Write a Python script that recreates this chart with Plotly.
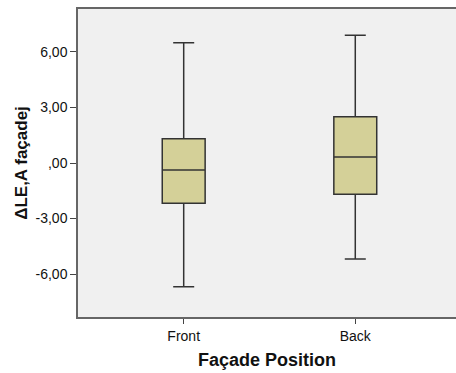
import plotly.graph_objects as go

categories = ["Front", "Back"]
lower_whisker = [-6.69, -5.19]
q1 = [-2.18, -1.69]
median = [-0.38, 0.32]
q3 = [1.31, 2.50]
upper_whisker = [6.49, 6.90]

tick_vals = [6, 3, 0, -3, -6]
tick_text = ["6,00", "3,00", ",00", "-3,00", "-6,00"]

fig = go.Figure()
fig.add_trace(go.Box(
    x=categories,
    q1=q1, median=median, q3=q3,
    lowerfence=lower_whisker, upperfence=upper_whisker,
    fillcolor="#D4D098",
    line=dict(color="#333333", width=1.5),
    width=0.25,
    whiskerwidth=0.49,
    boxpoints=False,
    showlegend=False,
    hoverinfo="skip",
))

fig.update_layout(
    width=456, height=373,
    margin=dict(l=78, r=0, t=9, b=56),
    paper_bgcolor="white",
    plot_bgcolor="#F0F0F0",
    font=dict(family="Liberation Sans, Arial, sans-serif", color="#111111", size=14),
    xaxis=dict(
        type="category",
        range=[-0.616, 1.587],
        showline=True, linecolor="#666666", linewidth=1.5, mirror=True,
        ticks="outside", ticklen=5, tickcolor="#444444",
        showgrid=False, zeroline=False,
        tickfont=dict(size=14),
        title=dict(text="Façade Position", font=dict(size=18, weight="bold"), standoff=11),
    ),
    yaxis=dict(
        range=[-8.32, 8.32],
        tickvals=tick_vals, ticktext=tick_text,
        showline=True, linecolor="#666666", linewidth=1.5,
        ticks="outside", ticklen=6, tickcolor="#444444",
        showgrid=False, zeroline=False,
        tickfont=dict(size=14),
        title=dict(text="ΔLE,A façadej", font=dict(size=17, weight="bold"), standoff=4),
    ),
)

fig.write_html("out.html")
